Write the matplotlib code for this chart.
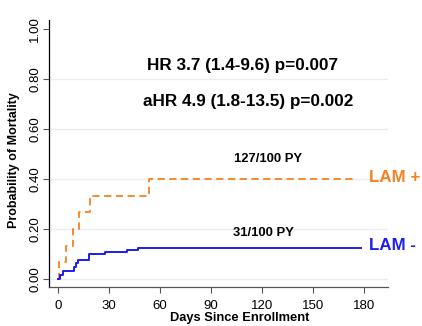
import numpy as np
import matplotlib.pyplot as plt

plt.rcParams['font.family'] = ['Liberation Sans', 'DejaVu Sans']

# Kaplan-Meier style step data (days, cumulative probability)
lam_pos_days = [0, 0.5, 4.7, 8.8, 12.5, 18.8, 53.7, 176]
lam_pos_prob = [0.0, 0.067, 0.133, 0.200, 0.267, 0.333, 0.400, 0.400]
lam_neg_days = [0, 1.2, 2.7, 9.6, 10.6, 12.0, 18.4, 27.6, 40.8, 46.9, 178]
lam_neg_prob = [0.0, 0.015, 0.032, 0.049, 0.065, 0.076, 0.099, 0.109, 0.116, 0.124, 0.124]

x_ticks = [0, 30, 60, 90, 120, 150, 180]
y_ticks = [0.0, 0.2, 0.4, 0.6, 0.8, 1.0]
y_ticklabels = ["0.00", "0.20", "0.40", "0.60", "0.80", "1.00"]

orange = "#f5821f"
blue = "#1c1cf5"

fig = plt.figure(figsize=(4.22, 3.26), dpi=100)
ax = fig.add_axes([49 / 422, 39 / 326, 339 / 422, 267 / 326])

for y in y_ticks[:-1]:
    ax.axhline(y, color="#e6eef0", lw=1.0, zorder=0)

ax.step(lam_pos_days, lam_pos_prob, where="post", color=orange, lw=1.3,
        linestyle=(0, (4, 2.5)))
ax.step(lam_neg_days, lam_neg_prob, where="post", color=blue, lw=1.4)

ax.set_xlim(-5.3, 194)
ax.set_ylim(-0.032, 1.035)
ax.set_xticks(x_ticks)
ax.set_yticks(y_ticks)
ax.set_yticklabels(y_ticklabels, rotation=90, va="center")
ax.tick_params(labelsize=9.5, length=4.5, width=0.8, color="#555555")
ax.tick_params(axis="y", pad=1)
ax.tick_params(axis="x", pad=5)
for s in ["top", "right"]:
    ax.spines[s].set_visible(False)
ax.spines["left"].set_linewidth(0.9)
ax.spines["bottom"].set_linewidth(0.9)
ax.spines["bottom"].set_color("#555555")

ax.set_ylabel("Probability of Mortality", fontsize=9, fontweight="bold")
ax.yaxis.set_label_coords(-0.087, 0.476)
ax.set_xlabel("Days Since Enrollment", fontsize=9.3, fontweight="bold")
ax.xaxis.set_label_coords(0.563, -0.095)

ax.text(108.5, 0.855, "HR 3.7 (1.4-9.6) p=0.007", fontsize=12.3, fontweight="bold",
        ha="center", va="center")
ax.text(112, 0.71, "aHR 4.9 (1.8-13.5) p=0.002", fontsize=12.3, fontweight="bold",
        ha="center", va="center")
ax.text(123.5, 0.48, "127/100 PY", fontsize=9.4, fontweight="bold", ha="center", va="center")
ax.text(121, 0.185, "31/100 PY", fontsize=9.4, fontweight="bold", ha="center", va="center")
ax.text(183, 0.405, "LAM +", fontsize=12.2, fontweight="bold", color=orange,
        ha="left", va="center", clip_on=False)
ax.text(183, 0.135, "LAM -", fontsize=12.2, fontweight="bold", color=blue,
        ha="left", va="center", clip_on=False)

fig.savefig("out.png", dpi=100)
